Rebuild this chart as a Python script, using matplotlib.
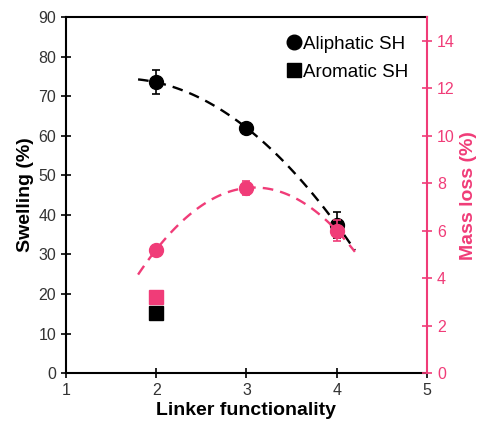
import matplotlib
matplotlib.use("Agg")
import matplotlib.pyplot as plt
from matplotlib.lines import Line2D
import numpy as np

matplotlib.rcParams["font.family"] = ["Liberation Sans", "DejaVu Sans"]

PINK = "#F03C78"

# data
functionality = [2, 3, 4]
swelling = [73.5, 62.0, 37.5]
swelling_err = [3.0, 0.8, 3.3]
mass_loss = [5.2, 7.8, 6.0]
mass_loss_err = [0.15, 0.3, 0.45]

aromatic_x = [2]
aromatic_swelling = [15.3]
aromatic_mass_loss = [3.2]

fig = plt.figure(figsize=(4.91, 4.26), dpi=100)
ax = fig.add_axes([0.134, 0.124, 0.736, 0.836])
ax2 = ax.twinx()

# quadratic trend lines
xfit = np.linspace(1.8, 4.2, 100)
p_sw = np.polyfit(functionality, swelling, 2)
p_ml = np.polyfit(functionality, mass_loss, 2)
ax.plot(xfit, np.polyval(p_sw, xfit), color="black", lw=1.7, dashes=(4.5, 3), zorder=2)
ax2.plot(xfit, np.polyval(p_ml, xfit), color=PINK, lw=1.7, dashes=(4.5, 3), zorder=2)

ax.errorbar(functionality, swelling, yerr=swelling_err, fmt="o", color="black",
            ms=10, capsize=3, elinewidth=1.2, capthick=1.2, zorder=4)
ax.plot(aromatic_x, aromatic_swelling, "s", color="black", ms=9.5, zorder=4)
ax2.errorbar(functionality, mass_loss, yerr=mass_loss_err, fmt="o", color=PINK,
             ms=10, capsize=3, elinewidth=1.2, capthick=1.2, zorder=4)
ax2.plot(aromatic_x, aromatic_mass_loss, "s", color=PINK, ms=9.5, zorder=4)

ax.set_xlim(1, 5)
ax.set_ylim(0, 90)
ax.set_xticks([1, 2, 3, 4, 5])
ax.set_yticks(np.arange(0, 91, 10))
ax2.set_ylim(0, 15)
ax2.set_yticks(np.arange(0, 15, 2))

ax.set_xlabel("Linker functionality", fontsize=14, fontweight="bold", labelpad=3)
ax.set_ylabel("Swelling (%)", fontsize=14, fontweight="bold", labelpad=3)
ax2.set_ylabel("Mass loss (%)", fontsize=14, fontweight="bold", color=PINK, labelpad=4)

ax.tick_params(direction="inout", length=7, width=1.2, labelsize=11.5, color="black",
               labelcolor="#333333")
ax2.tick_params(direction="inout", length=7, width=1.2, labelsize=11.5, color=PINK,
                labelcolor=PINK)

for s in ["left", "bottom", "top"]:
    ax.spines[s].set_linewidth(1.5)
ax.spines["right"].set_visible(False)
for s in ["left", "bottom", "top"]:
    ax2.spines[s].set_visible(False)
ax2.spines["right"].set_color(PINK)
ax2.spines["right"].set_linewidth(1.5)

handles = [Line2D([], [], marker="o", ls="none", color="black", ms=10.5),
           Line2D([], [], marker="s", ls="none", color="black", ms=10)]
ax2.legend(handles, ["Aliphatic SH", "Aromatic SH"], loc="upper right", frameon=False,
           fontsize=13.5, handletextpad=0.0, handlelength=1.0, borderaxespad=0.3,
           labelspacing=0.6, bbox_to_anchor=(0.985, 0.985))

fig.savefig("out.png", dpi=100)
